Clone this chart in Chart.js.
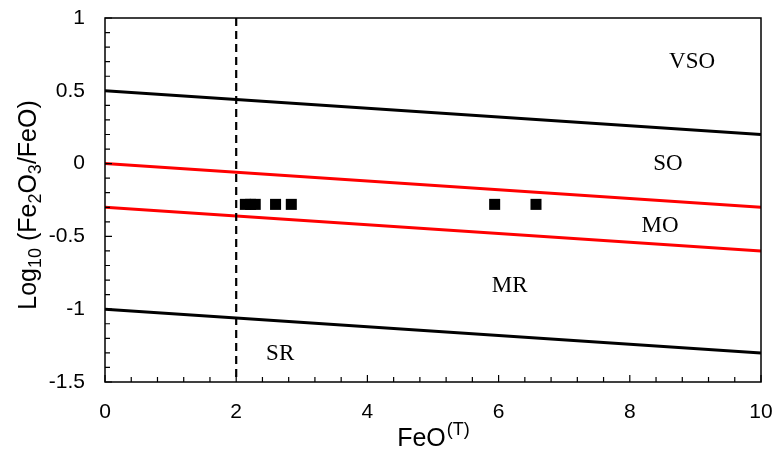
<!DOCTYPE html>
<html>
<head>
<meta charset="utf-8">
<script src="https://cdn.jsdelivr.net/npm/chart.js@4"></script>
<style>
  html, body { margin: 0; padding: 0; background: #fff; }
  #wrap { width: 777px; height: 454px; }
</style>
</head>
<body>
<div id="wrap"><canvas id="chart"></canvas></div>
<script>
// boundary lines: y at FeO = 0 and FeO = 10
const lineX = [0, 10];
const upperBlack = [0.5, 0.2];
const upperRed = [0, -0.3];
const lowerRed = [-0.3, -0.6];
const lowerBlack = [-1, -1.3];
const dashX = 2;

// samples
const sampleFeO = [2.14, 2.22, 2.29, 2.6, 2.84, 5.94, 6.57];
const sampleLog = [-0.28, -0.28, -0.28, -0.28, -0.28, -0.28, -0.28];

// field labels
const fieldNames = ['VSO', 'SO', 'MO', 'MR', 'SR'];
const fieldX = [8.95, 8.58, 8.46, 6.17, 2.67];
const fieldY = [0.7, 0.0, -0.43, -0.84, -1.31];

const xTicks = [0, 2, 4, 6, 8, 10];
const yTicks = [1, 0.5, 0, -0.5, -1, -1.5];

function seg(ys) {
  return lineX.map((x, i) => ({ x: x, y: ys[i] }));
}

const lineStyle = (color) => ({
  type: 'line',
  borderColor: color,
  borderWidth: 3,
  pointRadius: 0,
  fill: false
});

const sans = '"Liberation Sans", Arial, sans-serif';

function noPad(s) {
  s.paddingTop = 0;
  s.paddingBottom = 0;
  s.paddingLeft = 0;
  s.paddingRight = 0;
}

const overlay = {
  id: 'overlay',
  afterDatasetsDraw(chart) {
    const ctx = chart.ctx;
    const xs = chart.scales.x, ys = chart.scales.y;
    const a = chart.chartArea;
    ctx.save();

    // dashed divider
    ctx.strokeStyle = '#000';
    ctx.lineWidth = 2.2;
    ctx.setLineDash([8, 5]);
    ctx.beginPath();
    ctx.moveTo(xs.getPixelForValue(dashX), a.top);
    ctx.lineTo(xs.getPixelForValue(dashX), a.bottom);
    ctx.stroke();
    ctx.setLineDash([]);

    // frame
    ctx.lineWidth = 1.5;
    ctx.strokeRect(a.left, a.top, a.right - a.left, a.bottom - a.top);

    // inward ticks
    ctx.lineWidth = 1.2;
    ctx.beginPath();
    for (let i = 0; i <= 25; i++) {
      const px = xs.getPixelForValue(i * 0.4);
      const len = (i % 5 === 0) ? 7 : 5;
      ctx.moveTo(px, a.bottom);
      ctx.lineTo(px, a.bottom - len);
    }
    for (let i = 0; i <= 25; i++) {
      const py = ys.getPixelForValue(-1.5 + i * 0.1);
      const len = (i % 5 === 0) ? 7 : 5;
      ctx.moveTo(a.left, py);
      ctx.lineTo(a.left + len, py);
    }
    ctx.stroke();

    // field names
    ctx.fillStyle = '#000';
    ctx.font = '23px "Liberation Serif", "Times New Roman", serif';
    ctx.textAlign = 'center';
    ctx.textBaseline = 'middle';
    fieldNames.forEach((n, i) => {
      ctx.fillText(n, xs.getPixelForValue(fieldX[i]), ys.getPixelForValue(fieldY[i]));
    });

    const big = '25px ' + sans;
    const small = '18px ' + sans;

    // x title: FeO(T)
    ctx.textAlign = 'left';
    ctx.textBaseline = 'alphabetic';
    ctx.font = big;
    const wb = ctx.measureText('FeO').width;
    ctx.font = small;
    const ws = ctx.measureText('(T)').width;
    const sx = (a.left + a.right) / 2 - (wb + ws) / 2;
    ctx.font = big;
    ctx.fillText('FeO', sx, 446);
    ctx.font = small;
    ctx.fillText('(T)', sx + wb + 1, 435);

    // y title: Log10 (Fe2O3/FeO)
    const parts = [
      ['Log', 0], ['10', 1], [' (Fe', 0], ['2', 1], ['O', 0], ['3', 1], ['/FeO)', 0]
    ];
    let total = 0;
    parts.forEach(p => { ctx.font = p[1] ? small : big; total += ctx.measureText(p[0]).width; });
    ctx.translate(36, 205);
    ctx.rotate(-Math.PI / 2);
    let px = -total / 2;
    parts.forEach(p => {
      ctx.font = p[1] ? small : big;
      ctx.fillText(p[0], px, p[1] ? 5 : 0);
      px += ctx.measureText(p[0]).width;
    });
    ctx.restore();
  }
};

new Chart(document.getElementById('chart'), {
  type: 'scatter',
  data: {
    datasets: [
      Object.assign({ data: seg(upperBlack) }, lineStyle('#000')),
      Object.assign({ data: seg(upperRed) }, lineStyle('#ff0000')),
      Object.assign({ data: seg(lowerRed) }, lineStyle('#ff0000')),
      Object.assign({ data: seg(lowerBlack) }, lineStyle('#000')),
      {
        type: 'scatter',
        data: sampleFeO.map((x, i) => ({ x: x, y: sampleLog[i] })),
        pointStyle: 'rect',
        pointRadius: 7.8,
        backgroundColor: '#000',
        borderColor: '#000',
        borderWidth: 0
      }
    ]
  },
  options: {
    responsive: true,
    maintainAspectRatio: false,
    animation: false,
    layout: { padding: { left: 0, right: 16, top: 18, bottom: 0 } },
    plugins: { legend: { display: false }, tooltip: { enabled: false } },
    scales: {
      x: {
        type: 'linear',
        min: 0,
        max: 10,
        afterFit: (s) => { s.height = 72; noPad(s); },
        afterBuildTicks: (s) => { s.ticks = xTicks.map(v => ({ value: v })); },
        grid: { display: false, drawTicks: false },
        border: { display: false },
        ticks: {
          color: '#000',
          padding: 18,
          callback: (v) => String(v),
          font: { family: sans, size: 21 }
        }
      },
      y: {
        type: 'linear',
        min: -1.5,
        max: 1,
        afterFit: (s) => { s.width = 105; noPad(s); },
        afterBuildTicks: (s) => { s.ticks = yTicks.map(v => ({ value: v })); },
        grid: { display: false, drawTicks: false },
        border: { display: false },
        ticks: {
          color: '#000',
          padding: 20,
          callback: (v) => String(v),
          font: { family: sans, size: 21 }
        }
      }
    }
  },
  plugins: [overlay]
});
</script>
</body>
</html>
